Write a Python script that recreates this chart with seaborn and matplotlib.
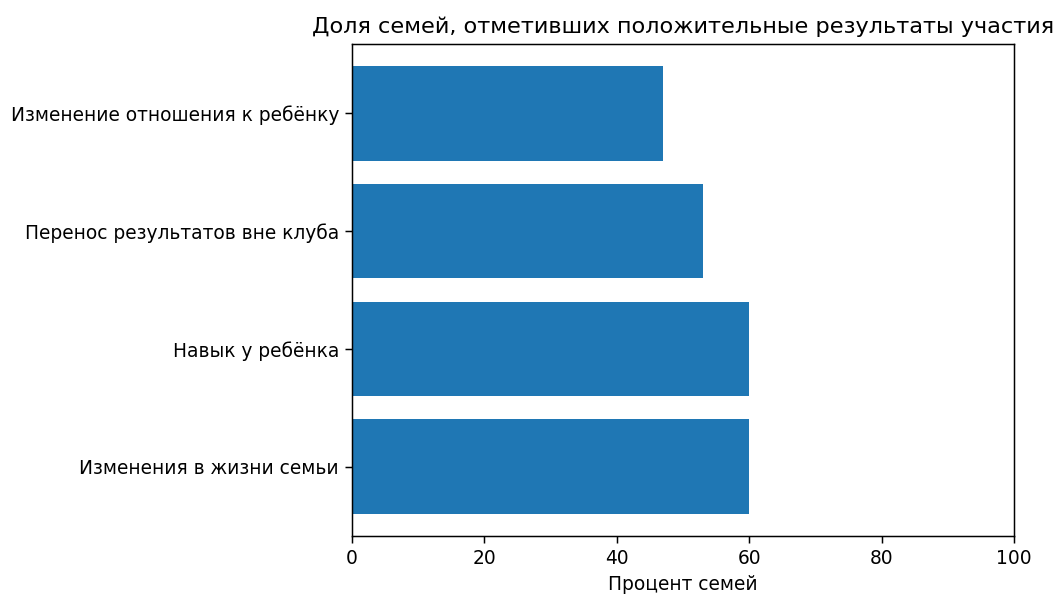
import matplotlib
matplotlib.use("Agg")
import matplotlib.pyplot as plt
import seaborn as sns
import pandas as pd

categories = ["Изменение отношения к ребёнку", "Перенос результатов вне клуба",
              "Навык у ребёнка", "Изменения в жизни семьи"]
values = [47, 53, 60, 60]

df = pd.DataFrame({"category": categories, "value": values})

plt.rcParams['font.family'] = ['DejaVu Sans']

DPI = 134
fig = plt.figure(figsize=(1054 / DPI, 595 / DPI), dpi=DPI)
ax = fig.add_axes([352/1054, 1-536/595, (1014-352)/1054, (536-44)/595])
sns.barplot(data=df, x="value", y="category", orient="h", color="#1f77b4",
            saturation=1, width=0.8, ax=ax)
ax.set_ylim(3.59, -0.59)
ax.set_xlim(0, 100)
ax.set_xticks([0, 20, 40, 60, 80, 100])
ax.set_xlabel("Процент семей", fontsize=10)
ax.set_ylabel("")
ax.tick_params(labelsize=10)
ax.set_title("Доля семей, отметивших положительные результаты участия", fontsize=12)
fig.savefig("out.png", dpi=DPI)
